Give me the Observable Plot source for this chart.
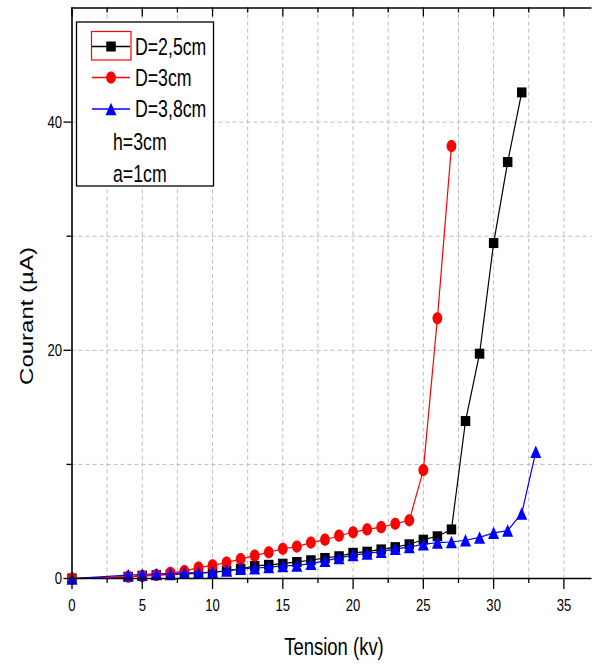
<!DOCTYPE html>
<html>
<head>
<meta charset="utf-8">
<script src="https://cdn.jsdelivr.net/npm/d3@7"></script>
<script src="https://cdn.jsdelivr.net/npm/@observablehq/plot@0.6"></script>
<style>
  body { margin: 0; background: #fff; }
  #chart { width: 592px; height: 665px; }
</style>
</head>
<body>
<div id="chart"></div>
<script>
// ---- data ----
const seriesNames = ["D=2,5cm", "D=3cm", "D=3,8cm"];
const seriesColors = ["#000000", "#ff0000", "#0000ff"];
const extraLegend = ["h=3cm", "a=1cm"];

const tensionD25 = [0,4,5,6,7,8,9,10,11,12,13,14,15,16,17,18,19,20,21,22,23,24,25,26,27,28,29,30,31,32];
const courantD25 = [0,0.15,0.25,0.3,0.35,0.4,0.45,0.55,0.65,0.85,1.1,1.2,1.3,1.45,1.6,1.8,1.95,2.25,2.35,2.55,2.75,3.0,3.4,3.7,4.3,13.8,19.7,29.4,36.5,42.6];

const tensionD3 = [0,4,5,6,7,8,9,10,11,12,13,14,15,16,17,18,19,20,21,22,23,24,25,26,27];
const courantD3 = [0,0.15,0.2,0.3,0.5,0.65,0.95,1.15,1.4,1.7,2.0,2.3,2.6,2.8,3.15,3.4,3.75,4.05,4.3,4.5,4.8,5.1,9.5,22.8,37.9];

const tensionD38 = [0,4,5,6,7,8,9,10,11,12,13,14,15,16,17,18,19,20,21,22,23,24,25,26,27,28,29,30,31,32,33];
const courantD38 = [0,0.3,0.35,0.4,0.4,0.5,0.5,0.55,0.7,0.85,0.9,1.0,1.1,1.15,1.3,1.55,1.8,2.05,2.2,2.35,2.6,2.75,3.0,3.15,3.2,3.35,3.6,4.0,4.2,5.7,11.1];

const xMajorTicks = [0,5,10,15,20,25,30,35];
const xMinorTicks = [2.5,7.5,12.5,17.5,22.5,27.5,32.5];
const yMajorTicks = [0,20,40];
const yMinorTicks = [10,30];
const xGridValues = [2.5,5,7.5,10,12.5,15,17.5,20,22.5,25,27.5,30,32.5,35];
const yGridValues = [10,20,30,40];

// ---- symbols (slightly taller than wide, like the reference) ----
const symSquare = { draw(ctx, size) { const r = Math.sqrt(size / Math.PI); const w = r * 0.95, h = r * 1.0; ctx.moveTo(-w, -h); ctx.lineTo(w, -h); ctx.lineTo(w, h); ctx.lineTo(-w, h); ctx.closePath(); } };
const symEllipse = { draw(ctx, size) { const r = Math.sqrt(size / Math.PI); const rx = r * 0.98, ry = r * 1.22, k = 0.5523;
  ctx.moveTo(rx, 0);
  ctx.bezierCurveTo(rx, ry * k, rx * k, ry, 0, ry);
  ctx.bezierCurveTo(-rx * k, ry, -rx, ry * k, -rx, 0);
  ctx.bezierCurveTo(-rx, -ry * k, -rx * k, -ry, 0, -ry);
  ctx.bezierCurveTo(rx * k, -ry, rx, -ry * k, rx, 0);
  ctx.closePath(); } };
const symTriangle = { draw(ctx, size) { const r = Math.sqrt(size / Math.PI); const w = r * 1.1, h = r * 1.25; ctx.moveTo(0, -h); ctx.lineTo(w, h); ctx.lineTo(-w, h); ctx.closePath(); } };
const seriesSymbols = [symSquare, symEllipse, symTriangle];

const series = [
  tensionD25.map((t, i) => ({ t, c: courantD25[i] })),
  tensionD3.map((t, i) => ({ t, c: courantD3[i] })),
  tensionD38.map((t, i) => ({ t, c: courantD38[i] }))
];

const W = 592, H = 665, mL = 71.5, mR = 0.5, mT = 7.5, mB = 87;
const frameH = H - mT - mB;
const grid = { stroke: "#bcbcbc", strokeDasharray: "4,3", strokeWidth: 1 };

const marks = [
  Plot.ruleX(xGridValues, grid),
  Plot.ruleY(yGridValues, grid)
];
series.forEach((rows, i) => {
  marks.push(Plot.line(rows, { x: "t", y: "c", stroke: seriesColors[i], strokeWidth: 1.2 }));
  marks.push(Plot.dot(rows, { x: "t", y: "c", symbol: seriesSymbols[i], r: 5, fill: seriesColors[i], stroke: "none" }));
});
marks.push(
  Plot.ruleX([0], { stroke: "#000", strokeWidth: 1.6 }),
  Plot.ruleY([0], { stroke: "#000", strokeWidth: 1.6 }),
  Plot.ruleY([50], { stroke: "#000", strokeWidth: 1.6 }),
  Plot.ruleX(xMajorTicks, { stroke: "#000", strokeWidth: 1.3, insetBottom: frameH - 9 }),
  Plot.ruleX(xMinorTicks, { stroke: "#000", strokeWidth: 1.3, insetBottom: frameH - 5 }),
  Plot.axisX({ ticks: xMajorTicks, tickSize: 11, tickPadding: 9, fontSize: 17, strokeWidth: 1.3, label: null }),
  Plot.axisX({ ticks: xMinorTicks, tickSize: 5, tickFormat: () => "", strokeWidth: 1.3, label: null }),
  Plot.axisY({ ticks: yMajorTicks, tickSize: 8, tickPadding: 2, fontSize: 17, strokeWidth: 1.3, label: null }),
  Plot.axisY({ ticks: yMinorTicks, tickSize: 5, tickFormat: () => "", strokeWidth: 1.3, label: null })
);

const chart = Plot.plot({
  width: W, height: H,
  marginLeft: mL, marginRight: mR, marginTop: mT, marginBottom: mB,
  style: { fontFamily: "'Liberation Sans', Arial, sans-serif", background: "#fff", color: "#000", overflow: "visible" },
  x: { domain: [0, 37] },
  y: { domain: [0, 50] },
  marks
});
document.getElementById("chart").appendChild(chart);

// horizontal compression of the text, as in the reference
const SX = 0.77;
chart.querySelectorAll('g[aria-label$="tick label"] text').forEach(t => {
  const tr = t.getAttribute("transform") || "";
  t.setAttribute("transform", tr + ` scale(${SX},1)`);
});

const svg = d3.select(chart);
const FONT = "'Liberation Sans', Arial, sans-serif";

// axis titles
svg.append("text").attr("transform", `translate(334,655) scale(${SX},1)`)
  .attr("text-anchor", "middle").attr("font-family", FONT).attr("font-size", 24).attr("fill", "#000")
  .text("Tension (kv)");
svg.append("text").attr("transform", `translate(33,316) scale(${SX},1) rotate(-90)`)
  .attr("text-anchor", "middle").attr("font-family", FONT).attr("font-size", 24).attr("fill", "#000")
  .text("Courant (µA)");

// legend
const lg = svg.append("g").attr("text-anchor", "start");
lg.append("rect").attr("x", 76.5).attr("y", 22).attr("width", 137).attr("height", 164)
  .attr("fill", "#fff").attr("stroke", "#000").attr("stroke-width", 1.3);
const rowsY = [46.5, 77.5, 109];
seriesNames.forEach((name, i) => {
  const cy = rowsY[i];
  lg.append("line").attr("x1", 92).attr("x2", 130).attr("y1", cy).attr("y2", cy)
    .attr("stroke", seriesColors[i]).attr("stroke-width", 1.3);
  const p = d3.path(); seriesSymbols[i].draw(p, Math.PI * 25);
  lg.append("path").attr("d", p.toString()).attr("transform", `translate(111,${cy})`).attr("fill", seriesColors[i]);
  lg.append("text").attr("transform", `translate(135,${cy + 8.3}) scale(${SX},1)`)
    .attr("text-anchor", "start")
    .attr("font-family", FONT).attr("font-size", 23).attr("fill", "#000").text(name);
});
lg.append("rect").attr("x", 91.5).attr("y", 31.5).attr("width", 39.5).attr("height", 28.5)
  .attr("fill", "none").attr("stroke", "#ff0000").attr("stroke-width", 1.2);
[[142.5 + 7.5, extraLegend[0]], [174 + 7.7, extraLegend[1]]].forEach(([y, s]) => {
  lg.append("text").attr("transform", `translate(113,${y}) scale(${SX},1)`)
    .attr("text-anchor", "start")
    .attr("font-family", FONT).attr("font-size", 23).attr("fill", "#000").text(s);
});
</script>
</body>
</html>
